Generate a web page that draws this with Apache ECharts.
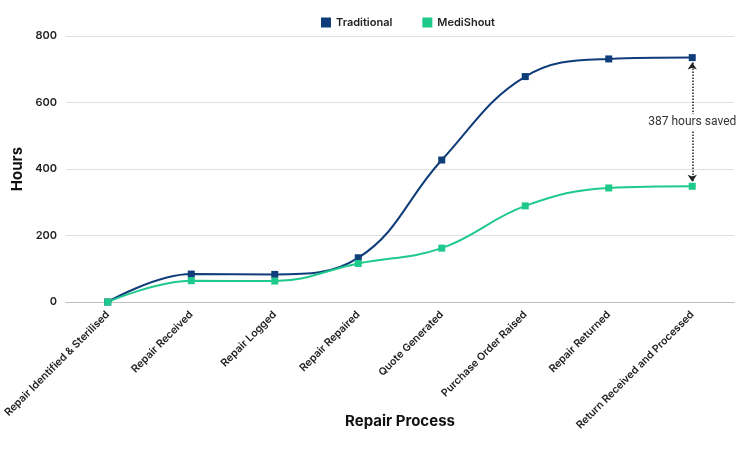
<!DOCTYPE html>
<html>
<head>
<meta charset="utf-8">
<script src="https://cdn.jsdelivr.net/npm/echarts@6/dist/echarts.min.js"></script>
<style>
  html, body { margin: 0; padding: 0; background: #fff; }
  #chart { width: 750px; height: 451px; }
</style>
</head>
<body>
<div id="chart"></div>
<script>
// data
const steps = [
  'Repair Identified & Sterilised',
  'Repair Received',
  'Repair Logged',
  'Repair Repaired',
  'Quote Generated',
  'Purchase Order Raised',
  'Repair Returned',
  'Return Received and Processed'
];
const traditional = [0, 84, 83, 133, 427, 678, 731, 735];
const mediShout = [0, 64, 63, 116, 162, 289, 343, 348];
const savedLabel = '387 hours saved';

const myChart = echarts.init(document.getElementById('chart'), null, { renderer: 'canvas' });

const labelFont = 'Inter, "Open Sans", sans-serif';

const option = {
  animation: false,
  legend: {
    top: 12,
    left: 316,
    itemWidth: 10,
    itemHeight: 10,
    itemGap: 30,
    icon: 'rect',
    textStyle: { color: '#222', fontFamily: labelFont, fontWeight: 600, fontSize: 11 },
    data: ['Traditional', 'MediShout']
  },
  grid: { left: 66, right: 16, top: 36, bottom: 149, outerBoundsMode: 'none', containLabel: false },
  xAxis: {
    type: 'category',
    data: steps,
    boundaryGap: true,
    name: 'Repair Process',
    nameLocation: 'middle',
    nameGap: 112,
    nameMoveOverlap: false,
    nameTextStyle: { color: '#111', fontFamily: labelFont, fontWeight: 700, fontSize: 15 },
    axisLine: { lineStyle: { color: '#bfbfbf' } },
    axisTick: { show: false },
    axisLabel: {
      rotate: 45,
      interval: 0,
      margin: 11,
      color: '#222',
      fontFamily: labelFont,
      fontWeight: 600,
      fontSize: 10.5
    }
  },
  yAxis: {
    type: 'value',
    min: 0,
    max: 800,
    interval: 200,
    name: 'Hours',
    nameLocation: 'middle',
    nameGap: 41,
    nameMoveOverlap: false,
    nameTextStyle: { color: '#111', fontFamily: labelFont, fontWeight: 700, fontSize: 15 },
    axisLine: { show: false },
    axisTick: { show: false },
    splitLine: { lineStyle: { color: '#e0e0e0' } },
    axisLabel: { color: '#222', fontFamily: labelFont, fontWeight: 600, fontSize: 11, margin: 9 }
  },
  series: [
    {
      name: 'Traditional',
      type: 'line',
      data: traditional,
      smooth: 0.4,
      symbol: 'rect',
      symbolSize: 7,
      itemStyle: { color: '#0f3d7a' },
      lineStyle: { color: '#0f3d7a', width: 2 },
      markLine: {
        silent: true,
        symbol: ['arrow', 'arrow'],
        symbolSize: [7, 7],
        lineStyle: { color: '#222', type: 'dotted', width: 1.5 },
        label: {
          position: 'middle',
          distance: 0,
          verticalAlign: 'middle',
          formatter: savedLabel,
          color: '#333',
          fontFamily: 'Roboto, "Liberation Sans", sans-serif',
          fontSize: 12,
          backgroundColor: '#fff',
          padding: [2, 0],
          rotate: 0
        },
        data: [[
          { coord: [7, traditional[7] - 15] },
          { coord: [7, mediShout[7] + 14] }
        ]]
      }
    },
    {
      name: 'MediShout',
      type: 'line',
      data: mediShout,
      smooth: 0.4,
      symbol: 'rect',
      symbolSize: 7,
      itemStyle: { color: '#1ec98c' },
      lineStyle: { color: '#1ec98c', width: 2 }
    }
  ]
};

myChart.setOption(option);
</script>
</body>
</html>
